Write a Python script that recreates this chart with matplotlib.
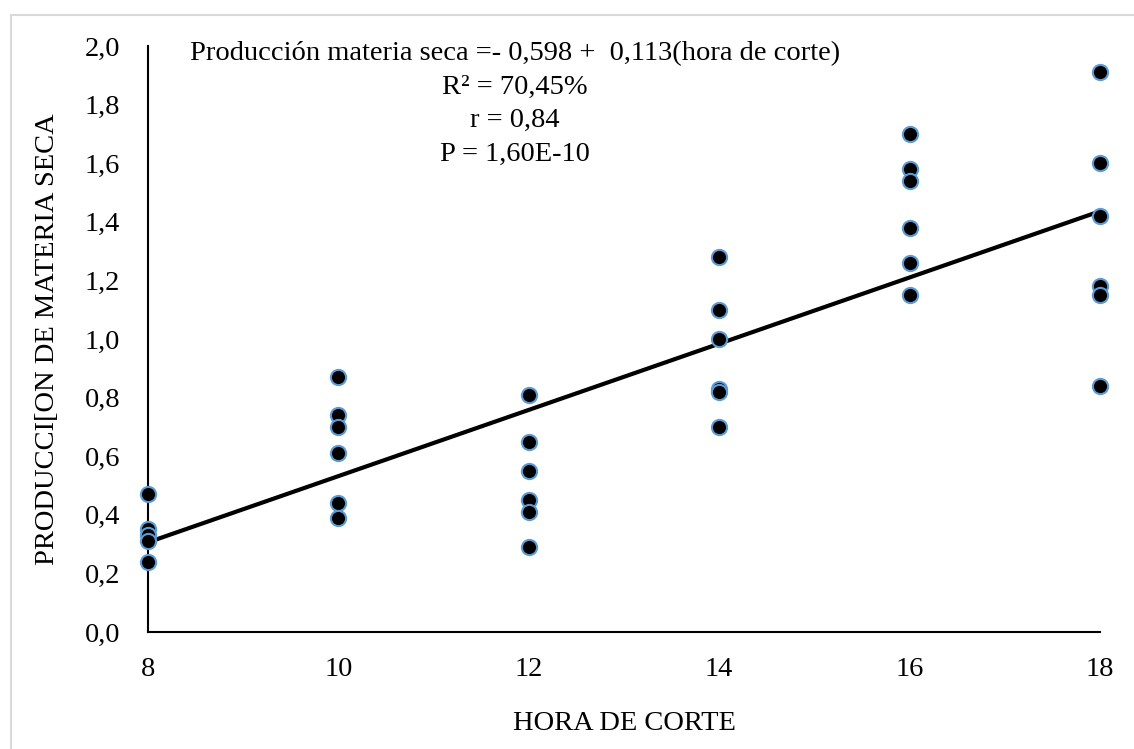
import matplotlib.pyplot as plt
from matplotlib.patches import Rectangle
import numpy as np

plt.rcParams['font.family'] = ['Liberation Serif', 'DejaVu Serif']

# datos
hora_8 = [0.47, 0.35, 0.33, 0.31, 0.24]
hora_10 = [0.87, 0.74, 0.70, 0.61, 0.44, 0.39]
hora_12 = [0.81, 0.65, 0.55, 0.45, 0.41, 0.29]
hora_14 = [1.28, 1.10, 1.00, 0.83, 0.82, 0.70]
hora_16 = [1.70, 1.58, 1.54, 1.38, 1.26, 1.15]
hora_18 = [1.91, 1.60, 1.42, 1.18, 1.15, 0.84]
horas = [8, 10, 12, 14, 16, 18]
intercepto = -0.598
pendiente = 0.113

grupos = [hora_8, hora_10, hora_12, hora_14, hora_16, hora_18]
x = np.concatenate([[h] * len(g) for h, g in zip(horas, grupos)])
y = np.concatenate(grupos)

fig = plt.figure(figsize=(11.34, 7.49), dpi=100)
fig.patches.append(Rectangle((11 / 1134, -0.1), 1.2, 1 - 15 / 749 + 0.1,
                             transform=fig.transFigure, fill=False,
                             edgecolor='#d9d9d9', linewidth=1.5))
ax = fig.add_axes([148 / 1134, 1 - 632 / 749, 952 / 1134, 586 / 749])

xl = np.array([horas[0], horas[-1]])
ax.plot(xl, intercepto + pendiente * xl, color='black', linewidth=3,
        solid_capstyle='butt', zorder=2, clip_on=False)
ax.scatter(x, y, s=120, facecolor='black', edgecolor='#5b9bd5',
           linewidth=1.5, zorder=3, clip_on=False)

ax.set_xlim(8, 18)
ax.set_ylim(0, 2)
ax.set_xticks(horas)
ax.set_yticks(np.arange(0, 2.01, 0.2))
ax.set_yticklabels([f'{v:.1f}'.replace('.', ',') for v in np.arange(0, 2.01, 0.2)])
ax.tick_params(length=0, labelsize=20.5, pad=20)
ax.tick_params(axis='x', pad=18)
for s in ['top', 'right']:
    ax.spines[s].set_visible(False)
for s in ['left', 'bottom']:
    ax.spines[s].set_linewidth(1.5)

ax.set_xlabel('HORA DE CORTE', fontsize=20.5, labelpad=21)
ax.set_ylabel('PRODUCCI[ON DE MATERIA SECA', fontsize=20.5, labelpad=18)

texto = ('Producción materia seca =- 0,598 +  0,113(hora de corte)\n'
         'R² = 70,45%\nr = 0,84\nP = 1,60E-10')
fig.text(515 / 1134, 1 - 41 / 749, texto, ha='center', va='top',
         fontsize=20.5, linespacing=1.45, multialignment='center')

fig.savefig('out.png', dpi=100)
